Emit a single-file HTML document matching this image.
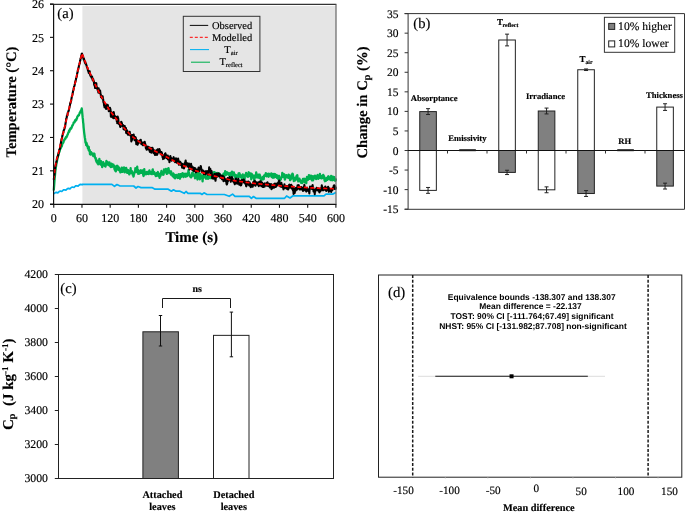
<!DOCTYPE html>
<html><head><meta charset="utf-8"><style>
html,body{margin:0;padding:0;background:#fff;overflow:hidden}
svg{display:block;will-change:transform;text-rendering:geometricPrecision}
text{stroke:#000;stroke-width:0.15px}
svg{font-family:"Liberation Serif",serif}
</style></head><body>
<svg width="685" height="512" viewBox="0 0 685 512">
<rect width="685" height="512" fill="#fff"/>
<rect x="82.4" y="6" width="253.5" height="198" fill="#e5e5e5"/>
<path d="M53.75 193.70L55.35 192.63L56.35 192.43L57.80 192.86L59.40 191.28L60.40 191.08L61.85 191.51L63.45 189.94L64.45 189.74L65.90 190.17L67.50 188.60L68.50 188.40L69.95 188.83L71.55 187.25L72.55 187.05L74.00 187.49L75.60 185.91L76.60 185.71L78.05 186.14L79.65 184.57L80.65 184.37L82.10 184.80L82.10 184.30L111.90 184.30L114.50 186.30L117.00 184.50L120.00 186.00L133.70 186.00L136.00 188.00L138.00 186.50L141.00 187.60L152.00 187.60L155.00 189.20L168.20 189.20L171.40 191.20L173.50 189.80L176.00 191.20L180.00 191.20L184.20 193.30L186.00 191.50L188.00 193.30L200.30 193.30L201.90 194.50L204.00 192.80L207.00 194.50L224.40 194.50L229.20 196.30L232.60 194.10L235.00 196.30L249.30 196.30L251.40 198.30L253.50 196.50L256.00 198.30L284.60 198.30L286.60 196.00L290.00 198.00L293.00 195.80L324.00 195.80L326.00 194.10L333.00 194.10L335.90 192.40" fill="none" stroke="#00b0f0" stroke-width="1.7" stroke-linejoin="round"/>
<path d="M53.75 190.48L53.99 187.42L54.22 184.45L54.46 181.22L54.69 178.35L54.93 175.55L55.16 173.04L55.40 170.59L55.63 169.62L55.87 167.16L56.10 166.04L56.34 164.17L56.57 163.01L56.81 162.01L57.04 160.84L57.28 159.61L57.51 158.63L57.75 157.01L57.98 156.60L58.22 154.63L58.45 154.13L58.69 153.23L58.92 152.77L59.16 151.78L59.39 151.89L59.63 151.22L59.86 149.61L60.10 149.55L60.33 148.51L60.57 148.51L60.80 148.00L61.04 147.66L61.27 146.89L61.51 146.55L61.74 146.39L61.98 145.54L62.21 144.11L62.45 143.90L62.68 143.20L62.92 142.91L63.16 142.76L63.39 142.41L63.63 141.20L63.86 140.86L64.10 140.67L64.33 139.59L64.57 139.35L64.80 139.29L65.04 138.62L65.27 138.38L65.51 138.61L65.74 137.61L65.98 137.07L66.21 136.81L66.45 137.29L66.68 136.58L66.92 136.13L67.15 135.84L67.39 134.96L67.62 134.42L67.86 134.33L68.09 133.44L68.33 132.48L68.56 132.13L68.80 131.70L69.03 130.70L69.27 131.79L69.50 130.60L69.74 129.97L69.97 129.09L70.21 129.52L70.44 128.54L70.68 128.08L70.91 128.28L71.15 128.59L71.38 127.96L71.62 127.58L71.85 126.74L72.09 126.43L72.32 125.31L72.56 125.25L72.80 125.03L73.03 124.49L73.27 123.83L73.50 123.09L73.74 122.32L73.97 122.70L74.21 122.26L74.44 122.51L74.68 121.85L74.91 120.77L75.15 121.28L75.38 120.01L75.62 120.06L75.85 120.55L76.09 120.22L76.32 119.96L76.56 118.73L76.79 118.95L77.03 118.32L77.26 116.90L77.50 116.71L77.73 116.00L77.97 115.93L78.20 115.54L78.44 115.70L78.67 114.96L78.91 115.30L79.14 114.68L79.38 113.89L79.61 112.98L79.85 112.99L80.08 112.17L80.32 112.22L80.55 111.61L80.79 110.66L81.02 110.38L81.26 109.87L81.49 110.12L81.73 108.45L81.97 110.16L82.20 112.49L82.44 115.22L82.67 117.72L82.91 119.19L83.14 122.36L83.38 123.90L83.61 127.33L83.85 129.46L84.08 131.76L84.32 133.83L84.55 135.31L84.79 137.45L85.02 138.31L85.26 140.18L85.49 142.74L85.73 142.58L85.96 142.16L86.20 145.14L86.43 143.11L86.67 143.08L86.90 145.53L87.14 146.11L87.37 145.26L87.61 146.59L87.84 147.98L88.08 146.57L88.31 147.23L88.55 149.94L88.78 147.00L89.02 150.77L89.25 150.88L89.49 150.63L89.72 149.98L89.96 154.25L90.19 152.52L90.43 153.63L90.66 154.59L90.90 154.08L91.13 152.05L91.37 154.25L91.61 152.90L91.84 154.05L92.08 153.74L92.31 153.46L92.55 153.75L92.78 153.62L93.02 154.88L93.25 156.15L93.49 154.55L93.72 154.76L93.96 155.33L94.19 153.53L94.43 153.94L94.66 155.62L94.90 156.97L95.13 157.56L95.37 158.56L95.60 157.78L95.84 158.86L96.07 160.93L96.31 159.57L96.54 161.93L96.78 161.20L97.01 161.84L97.25 160.97L97.48 163.43L97.72 161.66L97.95 163.00L98.19 164.28L98.42 164.12L98.66 163.61L98.89 162.18L99.13 160.47L99.36 158.83L99.60 160.45L99.83 161.69L100.07 162.97L100.30 163.92L100.54 164.59L100.77 164.30L101.01 161.12L101.25 164.97L101.48 162.97L101.72 163.75L101.95 164.92L102.19 167.09L102.42 165.25L102.66 163.20L102.89 162.76L103.13 162.17L103.36 162.53L103.60 163.61L103.83 163.26L104.07 165.42L104.30 164.27L104.54 165.82L104.77 164.71L105.01 165.57L105.24 165.43L105.48 166.63L105.71 165.18L105.95 164.36L106.18 162.86L106.42 160.99L106.65 161.38L106.89 161.81L107.12 162.38L107.36 164.71L107.59 164.12L107.83 163.78L108.06 162.50L108.30 164.02L108.53 164.39L108.77 162.73L109.00 165.26L109.24 165.51L109.47 162.31L109.71 163.95L109.94 165.39L110.18 164.95L110.42 166.52L110.65 164.27L110.89 167.14L111.12 164.90L111.36 163.62L111.59 165.34L111.83 163.80L112.06 166.85L112.30 166.25L112.53 164.78L112.77 164.68L113.00 165.23L113.24 165.95L113.47 164.63L113.71 166.36L113.94 166.57L114.18 165.94L114.41 168.64L114.65 169.48L114.88 169.09L115.12 170.53L115.35 169.64L115.59 168.96L115.82 171.46L116.06 168.27L116.29 169.79L116.53 166.03L116.76 165.80L117.00 165.73L117.23 167.36L117.47 167.64L117.70 166.13L117.94 168.06L118.17 168.66L118.41 169.97L118.64 167.20L118.88 169.31L119.11 167.92L119.35 170.23L119.58 169.96L119.82 169.60L120.06 170.61L120.29 172.46L120.53 171.14L120.76 171.57L121.00 170.71L121.23 171.96L121.47 168.64L121.70 167.66L121.94 170.07L122.17 171.16L122.41 169.57L122.64 171.78L122.88 170.70L123.11 169.88L123.35 170.19L123.58 167.63L123.82 169.23L124.05 167.50L124.29 167.92L124.52 169.73L124.76 172.47L124.99 169.49L125.23 168.97L125.46 169.70L125.70 168.47L125.93 170.74L126.17 167.82L126.40 171.23L126.64 169.21L126.87 171.90L127.11 172.84L127.34 171.06L127.58 171.92L127.81 170.96L128.05 170.12L128.28 172.87L128.52 170.75L128.75 172.02L128.99 172.21L129.23 174.27L129.46 174.29L129.70 173.44L129.93 171.59L130.17 171.60L130.40 172.36L130.64 168.23L130.87 171.91L131.11 171.06L131.34 170.85L131.58 173.00L131.81 171.18L132.05 172.59L132.28 171.37L132.52 172.31L132.75 174.94L132.99 174.02L133.22 174.43L133.46 176.53L133.69 176.05L133.93 172.92L134.16 174.09L134.40 172.94L134.63 172.56L134.87 172.34L135.10 171.75L135.34 168.26L135.57 168.36L135.81 169.79L136.04 171.86L136.28 171.53L136.51 171.45L136.75 169.76L136.98 168.52L137.22 166.74L137.45 170.82L137.69 172.78L137.92 170.92L138.16 173.80L138.39 172.13L138.63 170.46L138.87 171.68L139.10 173.38L139.34 173.62L139.57 171.03L139.81 172.05L140.04 172.35L140.28 171.19L140.51 172.48L140.75 172.70L140.98 170.27L141.22 171.60L141.45 171.52L141.69 172.84L141.92 170.71L142.16 172.02L142.39 170.45L142.63 172.98L142.86 171.91L143.10 174.20L143.33 175.40L143.57 175.97L143.80 175.26L144.04 173.08L144.27 169.14L144.51 172.37L144.74 172.85L144.98 172.67L145.21 172.82L145.45 173.63L145.68 172.61L145.92 174.39L146.15 173.24L146.39 173.05L146.62 172.02L146.86 173.25L147.09 173.92L147.33 173.88L147.56 172.22L147.80 172.33L148.04 173.19L148.27 171.73L148.51 172.64L148.74 174.05L148.98 173.42L149.21 171.94L149.45 170.41L149.68 171.42L149.92 171.99L150.15 172.49L150.39 173.36L150.62 173.06L150.86 173.76L151.09 172.40L151.33 172.04L151.56 171.87L151.80 174.22L152.03 172.89L152.27 172.15L152.50 170.18L152.74 169.46L152.97 170.86L153.21 171.74L153.44 171.82L153.68 173.88L153.91 171.79L154.15 172.98L154.38 173.21L154.62 172.65L154.85 173.84L155.09 174.67L155.32 174.87L155.56 174.97L155.79 176.14L156.03 174.53L156.26 175.28L156.50 175.91L156.73 174.76L156.97 172.97L157.20 173.05L157.44 173.21L157.68 172.51L157.91 172.02L158.15 175.03L158.38 175.78L158.62 175.53L158.85 173.82L159.09 175.35L159.32 176.30L159.56 177.88L159.79 176.61L160.03 173.78L160.26 175.21L160.50 175.94L160.73 172.94L160.97 173.74L161.20 172.33L161.44 170.90L161.67 171.96L161.91 172.73L162.14 172.95L162.38 173.37L162.61 174.48L162.85 174.41L163.08 174.26L163.32 174.81L163.55 174.71L163.79 172.79L164.02 169.31L164.26 169.88L164.49 172.49L164.73 170.07L164.96 171.70L165.20 172.38L165.43 171.22L165.67 171.04L165.90 168.79L166.14 172.20L166.37 170.86L166.61 172.81L166.85 173.95L167.08 172.55L167.32 172.61L167.55 173.45L167.79 171.16L168.02 168.76L168.26 170.08L168.49 168.13L168.73 169.45L168.96 171.46L169.20 171.72L169.43 170.89L169.67 172.83L169.90 172.45L170.14 171.67L170.37 173.13L170.61 173.69L170.84 174.55L171.08 171.34L171.31 174.66L171.55 173.19L171.78 173.29L172.02 174.20L172.25 174.78L172.49 175.83L172.72 176.25L172.96 175.83L173.19 173.46L173.43 176.51L173.66 176.22L173.90 177.26L174.13 174.37L174.37 177.75L174.60 174.90L174.84 175.51L175.07 178.31L175.31 176.40L175.54 177.50L175.78 175.16L176.01 176.31L176.25 174.97L176.49 175.44L176.72 177.43L176.96 175.30L177.19 175.71L177.43 177.31L177.66 176.81L177.90 177.98L178.13 176.52L178.37 174.34L178.60 176.05L178.84 174.14L179.07 177.12L179.31 175.23L179.54 176.37L179.78 177.56L180.01 178.69L180.25 176.86L180.48 174.12L180.72 175.95L180.95 176.02L181.19 176.81L181.42 176.27L181.66 173.77L181.89 173.63L182.13 174.22L182.36 173.65L182.60 173.12L182.83 174.49L183.07 174.42L183.30 174.95L183.54 177.07L183.77 174.18L184.01 174.87L184.24 174.37L184.48 173.98L184.71 174.20L184.95 173.79L185.18 174.92L185.42 174.84L185.66 176.15L185.89 176.75L186.13 173.57L186.36 175.38L186.60 176.17L186.83 175.37L187.07 176.12L187.30 175.15L187.54 173.76L187.77 174.41L188.01 173.13L188.24 172.83L188.48 170.17L188.71 172.54L188.95 172.82L189.18 175.20L189.42 175.18L189.65 176.09L189.89 175.02L190.12 176.23L190.36 176.94L190.59 175.37L190.83 176.83L191.06 177.45L191.30 177.04L191.53 176.67L191.77 175.81L192.00 173.06L192.24 175.86L192.47 173.95L192.71 172.50L192.94 175.65L193.18 173.16L193.41 174.66L193.65 174.61L193.88 175.20L194.12 174.37L194.35 174.31L194.59 174.81L194.82 176.54L195.06 178.32L195.30 177.30L195.53 176.48L195.77 175.72L196.00 174.28L196.24 173.18L196.47 174.03L196.71 172.56L196.94 171.56L197.18 175.52L197.41 179.49L197.65 176.20L197.88 176.18L198.12 177.40L198.35 173.58L198.59 172.79L198.82 174.09L199.06 173.40L199.29 176.30L199.53 177.73L199.76 179.44L200.00 178.75L200.23 176.04L200.47 174.25L200.70 176.42L200.94 175.94L201.17 175.68L201.41 177.59L201.64 177.68L201.88 176.49L202.11 176.08L202.35 178.12L202.58 181.34L202.82 177.35L203.05 178.72L203.29 175.27L203.52 175.81L203.76 175.17L203.99 175.11L204.23 176.98L204.47 176.73L204.70 176.29L204.94 177.23L205.17 175.82L205.41 177.09L205.64 177.26L205.88 177.61L206.11 178.73L206.35 176.97L206.58 176.70L206.82 177.26L207.05 177.52L207.29 176.11L207.52 177.16L207.76 177.23L207.99 178.88L208.23 176.21L208.46 174.57L208.70 175.21L208.93 174.62L209.17 176.83L209.40 177.73L209.64 175.78L209.87 177.15L210.11 178.10L210.34 176.00L210.58 177.25L210.81 173.99L211.05 178.09L211.28 176.27L211.52 178.10L211.75 177.59L211.99 175.41L212.22 174.77L212.46 173.44L212.69 172.59L212.93 173.41L213.16 172.37L213.40 176.17L213.63 174.96L213.87 173.86L214.11 174.90L214.34 172.05L214.58 176.98L214.81 177.90L215.05 178.75L215.28 178.54L215.52 178.15L215.75 172.81L215.99 176.37L216.22 174.26L216.46 174.40L216.69 175.72L216.93 174.66L217.16 174.44L217.40 176.17L217.63 174.54L217.87 173.02L218.10 175.46L218.34 174.69L218.57 173.63L218.81 173.66L219.04 175.50L219.28 173.59L219.51 173.85L219.75 174.84L219.98 174.64L220.22 175.79L220.45 176.34L220.69 176.74L220.92 176.55L221.16 176.15L221.39 177.49L221.63 176.20L221.86 177.27L222.10 177.78L222.33 175.44L222.57 177.46L222.80 177.16L223.04 177.15L223.28 176.33L223.51 173.77L223.75 178.41L223.98 176.22L224.22 175.37L224.45 173.27L224.69 173.91L224.92 175.35L225.16 171.12L225.39 174.29L225.63 173.12L225.86 174.40L226.10 174.80L226.33 173.15L226.57 172.42L226.80 172.63L227.04 173.36L227.27 172.35L227.51 174.19L227.74 173.33L227.98 173.48L228.21 174.07L228.45 174.46L228.68 173.77L228.92 173.32L229.15 173.98L229.39 175.61L229.62 173.36L229.86 175.72L230.09 176.51L230.33 176.53L230.56 176.29L230.80 178.77L231.03 172.77L231.27 174.79L231.50 175.12L231.74 173.54L231.97 171.55L232.21 174.21L232.44 175.65L232.68 175.26L232.92 173.54L233.15 175.36L233.39 174.24L233.62 174.62L233.86 172.31L234.09 174.64L234.33 174.10L234.56 175.33L234.80 176.67L235.03 175.20L235.27 175.91L235.50 178.76L235.74 174.98L235.97 175.41L236.21 175.93L236.44 175.37L236.68 176.13L236.91 176.24L237.15 175.71L237.38 176.68L237.62 176.99L237.85 177.17L238.09 176.85L238.32 176.09L238.56 173.36L238.79 173.67L239.03 175.11L239.26 174.21L239.50 173.26L239.73 174.28L239.97 176.87L240.20 175.06L240.44 175.19L240.67 176.12L240.91 176.58L241.14 175.53L241.38 176.68L241.61 176.55L241.85 179.23L242.09 178.91L242.32 178.40L242.56 178.41L242.79 174.43L243.03 179.50L243.26 178.08L243.50 177.39L243.73 179.11L243.97 177.52L244.20 176.43L244.44 179.28L244.67 178.86L244.91 175.25L245.14 175.96L245.38 174.79L245.61 174.53L245.85 174.10L246.08 172.98L246.32 173.88L246.55 175.39L246.79 175.59L247.02 174.46L247.26 176.60L247.49 174.64L247.73 175.35L247.96 176.92L248.20 175.59L248.43 173.56L248.67 172.26L248.90 172.51L249.14 174.70L249.37 175.71L249.61 173.74L249.84 174.86L250.08 174.32L250.31 174.86L250.55 173.50L250.78 177.06L251.02 176.65L251.25 179.28L251.49 175.94L251.73 173.90L251.96 177.43L252.20 174.95L252.43 175.40L252.67 175.88L252.90 175.42L253.14 176.65L253.37 177.83L253.61 175.70L253.84 177.66L254.08 179.20L254.31 180.99L254.55 176.48L254.78 176.54L255.02 177.87L255.25 177.38L255.49 175.33L255.72 174.59L255.96 175.61L256.19 172.44L256.43 175.14L256.66 175.41L256.90 177.01L257.13 177.46L257.37 175.91L257.60 174.87L257.84 175.57L258.07 175.53L258.31 175.60L258.54 175.94L258.78 174.75L259.01 176.44L259.25 178.00L259.48 176.32L259.72 174.55L259.95 176.88L260.19 176.01L260.42 177.62L260.66 177.68L260.90 178.69L261.13 180.35L261.37 180.02L261.60 179.13L261.84 179.27L262.07 178.56L262.31 177.92L262.54 178.19L262.78 176.97L263.01 177.06L263.25 179.42L263.48 178.04L263.72 179.07L263.95 176.38L264.19 175.48L264.42 176.18L264.66 175.36L264.89 175.87L265.13 175.19L265.36 174.43L265.60 174.52L265.83 173.13L266.07 174.74L266.30 174.63L266.54 176.38L266.77 175.82L267.01 175.29L267.24 175.38L267.48 176.15L267.71 173.78L267.95 174.28L268.18 175.76L268.42 175.73L268.65 176.73L268.89 173.74L269.12 174.15L269.36 174.41L269.59 174.51L269.83 175.69L270.06 174.96L270.30 175.12L270.54 174.74L270.77 174.41L271.01 174.49L271.24 173.36L271.48 173.90L271.71 177.22L271.95 175.27L272.18 173.86L272.42 176.22L272.65 175.02L272.89 177.76L273.12 174.78L273.36 177.15L273.59 177.64L273.83 176.27L274.06 173.87L274.30 176.00L274.53 177.40L274.77 176.18L275.00 174.70L275.24 174.33L275.47 176.65L275.71 176.05L275.94 176.60L276.18 176.85L276.41 176.09L276.65 175.20L276.88 177.82L277.12 176.46L277.35 175.70L277.59 175.86L277.82 178.27L278.06 178.01L278.29 179.10L278.53 177.57L278.76 176.01L279.00 175.77L279.23 178.43L279.47 177.12L279.71 179.95L279.94 179.38L280.18 180.34L280.41 178.53L280.65 179.52L280.88 179.28L281.12 177.65L281.35 178.00L281.59 177.14L281.82 176.46L282.06 175.68L282.29 172.84L282.53 174.10L282.76 173.83L283.00 175.60L283.23 176.87L283.47 175.64L283.70 177.18L283.94 174.93L284.17 174.25L284.41 175.94L284.64 177.98L284.88 179.51L285.11 178.95L285.35 178.12L285.58 176.11L285.82 175.87L286.05 176.94L286.29 175.21L286.52 177.15L286.76 177.07L286.99 175.64L287.23 176.50L287.46 175.68L287.70 176.28L287.93 176.10L288.17 177.77L288.40 177.12L288.64 174.76L288.88 176.48L289.11 175.15L289.35 177.10L289.58 176.32L289.82 177.04L290.05 180.12L290.29 180.17L290.52 179.34L290.76 179.10L290.99 178.85L291.23 178.08L291.46 176.15L291.70 174.72L291.93 178.28L292.17 176.28L292.40 173.64L292.64 175.75L292.87 174.08L293.11 178.77L293.34 176.49L293.58 178.43L293.81 181.08L294.05 178.91L294.28 179.13L294.52 178.86L294.75 178.15L294.99 180.00L295.22 180.42L295.46 179.97L295.69 179.89L295.93 177.78L296.16 177.74L296.40 176.15L296.63 176.23L296.87 177.30L297.10 175.38L297.34 175.27L297.57 178.79L297.81 178.49L298.04 180.16L298.28 181.42L298.52 178.66L298.75 180.39L298.99 178.91L299.22 178.72L299.46 178.67L299.69 180.39L299.93 180.96L300.16 180.62L300.40 180.64L300.63 182.03L300.87 180.67L301.10 182.94L301.34 181.87L301.57 182.37L301.81 182.03L302.04 182.46L302.28 183.05L302.51 180.42L302.75 182.01L302.98 178.88L303.22 180.76L303.45 180.80L303.69 180.79L303.92 179.14L304.16 178.69L304.39 180.15L304.63 178.93L304.86 182.44L305.10 181.63L305.33 179.83L305.57 181.84L305.80 180.00L306.04 181.06L306.27 183.05L306.51 180.05L306.74 178.33L306.98 177.03L307.21 179.03L307.45 177.94L307.69 178.90L307.92 179.93L308.16 179.10L308.39 178.92L308.63 176.70L308.86 175.21L309.10 177.20L309.33 177.28L309.57 177.67L309.80 178.87L310.04 175.93L310.27 176.35L310.51 177.54L310.74 176.78L310.98 175.67L311.21 177.17L311.45 177.79L311.68 177.78L311.92 180.31L312.15 178.53L312.39 177.48L312.62 177.27L312.86 176.12L313.09 180.43L313.33 178.38L313.56 176.75L313.80 176.88L314.03 176.78L314.27 178.36L314.50 177.36L314.74 177.87L314.97 175.67L315.21 178.24L315.44 176.14L315.68 176.16L315.91 177.54L316.15 179.00L316.38 178.52L316.62 177.62L316.85 178.24L317.09 176.68L317.33 175.44L317.56 175.03L317.80 176.37L318.03 176.48L318.27 178.81L318.50 178.22L318.74 178.22L318.97 177.37L319.21 177.10L319.44 175.73L319.68 177.94L319.91 173.90L320.15 176.87L320.38 175.51L320.62 177.42L320.85 177.33L321.09 176.20L321.32 178.46L321.56 177.10L321.79 177.37L322.03 176.01L322.26 178.12L322.50 176.65L322.73 177.00L322.97 175.76L323.20 174.85L323.44 176.86L323.67 175.74L323.91 177.14L324.14 176.27L324.38 179.20L324.61 180.50L324.85 179.70L325.08 181.22L325.32 179.44L325.55 180.34L325.79 180.88L326.02 180.02L326.26 179.90L326.50 177.87L326.73 177.92L326.97 179.58L327.20 177.79L327.44 179.92L327.67 178.56L327.91 178.92L328.14 176.88L328.38 176.24L328.61 177.63L328.85 178.49L329.08 178.92L329.32 178.18L329.55 177.34L329.79 178.90L330.02 179.01L330.26 178.34L330.49 180.05L330.73 179.78L330.96 175.94L331.20 175.83L331.43 177.00L331.67 177.72L331.90 179.27L332.14 180.28L332.37 179.22L332.61 177.50L332.84 176.71L333.08 178.99L333.31 179.97L333.55 178.43L333.78 179.92L334.02 178.03L334.25 177.10L334.49 178.77L334.72 178.76L334.96 179.15L335.19 180.75L335.43 180.60L335.66 180.38L335.90 178.36" fill="none" stroke="#00b050" stroke-width="2.3" stroke-linejoin="round"/>
<path d="M53.75 179.71L53.99 177.99L54.22 175.91L54.46 174.33L54.69 171.96L54.93 169.38L55.16 167.11L55.40 165.81L55.63 165.07L55.87 164.30L56.10 163.33L56.34 161.80L56.57 160.90L56.81 159.68L57.04 157.96L57.28 157.92L57.51 157.26L57.75 156.05L57.98 156.26L58.22 155.37L58.45 153.87L58.69 153.04L58.92 152.18L59.16 150.82L59.39 149.48L59.63 149.30L59.86 148.61L60.10 147.17L60.33 146.19L60.57 145.04L60.80 143.38L61.04 142.11L61.27 140.79L61.51 139.55L61.74 138.45L61.98 138.37L62.21 136.72L62.45 135.27L62.68 135.02L62.92 133.54L63.16 133.27L63.39 132.55L63.63 130.65L63.86 130.15L64.10 129.98L64.33 128.99L64.57 128.24L64.80 127.19L65.04 126.80L65.27 125.28L65.51 123.53L65.74 122.27L65.98 120.93L66.21 118.76L66.45 118.21L66.68 117.84L66.92 115.64L67.15 115.84L67.39 115.61L67.62 113.31L67.86 112.66L68.09 112.60L68.33 111.34L68.56 111.19L68.80 110.41L69.03 109.15L69.27 108.24L69.50 107.32L69.74 106.11L69.97 104.91L70.21 103.10L70.44 103.63L70.68 102.07L70.91 101.84L71.15 100.87L71.38 99.17L71.62 97.83L71.85 96.64L72.09 95.96L72.32 95.17L72.56 94.25L72.80 92.49L73.03 91.35L73.27 90.20L73.50 89.59L73.74 88.54L73.97 87.05L74.21 86.51L74.44 85.82L74.68 84.75L74.91 83.94L75.15 81.98L75.38 81.99L75.62 80.69L75.85 79.75L76.09 78.45L76.32 77.85L76.56 76.87L76.79 76.27L77.03 74.64L77.26 73.01L77.50 72.59L77.73 70.97L77.97 69.81L78.20 69.56L78.44 67.81L78.67 67.63L78.91 65.90L79.14 65.13L79.38 64.32L79.61 63.16L79.85 63.03L80.08 60.54L80.32 60.36L80.55 58.45L80.79 57.92L81.02 58.10L81.26 56.21L81.49 55.31L81.73 53.71L81.97 53.50L82.20 54.45L82.44 55.54L82.67 55.41L82.91 56.34L83.14 56.94L83.38 58.22L83.61 59.27L83.85 58.48L84.08 59.06L84.32 60.84L84.55 60.97L84.79 62.05L85.02 63.03L85.26 61.75L85.49 63.69L85.73 63.45L85.96 63.45L86.20 64.63L86.43 65.19L86.67 66.10L86.90 66.98L87.14 67.59L87.37 67.61L87.61 68.78L87.84 69.88L88.08 70.90L88.31 70.57L88.55 71.89L88.78 73.00L89.02 73.02L89.25 71.99L89.49 72.59L89.72 71.30L89.96 74.81L90.19 74.88L90.43 74.37L90.66 76.17L90.90 76.64L91.13 76.09L91.37 77.17L91.61 77.46L91.84 78.13L92.08 76.63L92.31 77.66L92.55 79.89L92.78 80.19L93.02 79.92L93.25 79.30L93.49 80.89L93.72 81.79L93.96 81.40L94.19 84.90L94.43 84.59L94.66 85.21L94.90 86.68L95.13 88.02L95.37 86.64L95.60 83.89L95.84 83.18L96.07 86.85L96.31 83.31L96.54 87.91L96.78 87.52L97.01 87.29L97.25 87.96L97.48 89.45L97.72 90.29L97.95 89.22L98.19 91.42L98.42 92.48L98.66 88.39L98.89 90.99L99.13 90.69L99.36 92.90L99.60 91.89L99.83 91.68L100.07 90.46L100.30 92.24L100.54 94.20L100.77 94.41L101.01 97.04L101.25 97.23L101.48 96.25L101.72 97.96L101.95 97.42L102.19 98.38L102.42 96.17L102.66 96.38L102.89 98.83L103.13 99.13L103.36 101.77L103.60 102.60L103.83 102.57L104.07 105.36L104.30 105.97L104.54 107.18L104.77 106.05L105.01 104.75L105.24 106.60L105.48 106.86L105.71 108.19L105.95 108.53L106.18 108.89L106.42 105.15L106.65 104.59L106.89 107.68L107.12 108.34L107.36 108.27L107.59 107.12L107.83 105.07L108.06 106.87L108.30 107.12L108.53 108.73L108.77 111.24L109.00 109.18L109.24 111.03L109.47 109.02L109.71 108.89L109.94 107.74L110.18 109.71L110.42 108.98L110.65 111.50L110.89 116.60L111.12 116.33L111.36 116.55L111.59 114.39L111.83 112.47L112.06 114.65L112.30 117.13L112.53 114.91L112.77 117.54L113.00 114.33L113.24 116.03L113.47 118.15L113.71 112.12L113.94 113.24L114.18 117.04L114.41 115.64L114.65 115.62L114.88 116.53L115.12 118.14L115.35 117.41L115.59 116.93L115.82 117.20L116.06 116.92L116.29 117.70L116.53 117.02L116.76 121.08L117.00 119.31L117.23 123.09L117.47 121.60L117.70 116.58L117.94 119.41L118.17 118.04L118.41 120.41L118.64 123.17L118.88 123.40L119.11 124.31L119.35 124.35L119.58 123.44L119.82 124.29L120.06 126.03L120.29 127.00L120.53 126.48L120.76 125.83L121.00 124.38L121.23 121.68L121.47 122.12L121.70 123.18L121.94 123.05L122.17 125.74L122.41 125.91L122.64 125.05L122.88 124.91L123.11 125.33L123.35 125.47L123.58 129.11L123.82 128.80L124.05 129.54L124.29 126.85L124.52 127.88L124.76 126.02L124.99 128.95L125.23 128.26L125.46 130.08L125.70 130.39L125.93 128.09L126.17 133.07L126.40 130.48L126.64 130.13L126.87 130.78L127.11 130.36L127.34 131.22L127.58 134.13L127.81 134.39L128.05 134.62L128.28 134.66L128.52 134.64L128.75 133.24L128.99 134.04L129.23 133.74L129.46 134.77L129.70 131.69L129.93 133.51L130.17 133.95L130.40 135.13L130.64 135.84L130.87 134.91L131.11 137.03L131.34 141.54L131.58 137.82L131.81 135.36L132.05 139.82L132.28 135.87L132.52 135.05L132.75 136.27L132.99 135.19L133.22 137.38L133.46 136.62L133.69 134.58L133.93 135.88L134.16 137.83L134.40 138.81L134.63 140.22L134.87 137.79L135.10 139.57L135.34 136.97L135.57 138.96L135.81 137.76L136.04 139.96L136.28 144.09L136.51 142.01L136.75 143.90L136.98 142.96L137.22 140.33L137.45 144.23L137.69 144.68L137.92 141.13L138.16 142.73L138.39 141.69L138.63 141.74L138.87 142.83L139.10 142.40L139.34 141.15L139.57 140.69L139.81 142.48L140.04 141.29L140.28 140.47L140.51 141.89L140.75 139.72L140.98 141.50L141.22 143.36L141.45 144.08L141.69 142.32L141.92 142.87L142.16 144.30L142.39 144.51L142.63 142.82L142.86 144.99L143.10 145.29L143.33 142.47L143.57 144.74L143.80 143.99L144.04 143.17L144.27 143.62L144.51 144.79L144.74 141.91L144.98 143.38L145.21 145.10L145.45 144.27L145.68 146.84L145.92 148.20L146.15 147.05L146.39 147.73L146.62 149.62L146.86 146.62L147.09 147.13L147.33 146.79L147.56 148.42L147.80 147.35L148.04 146.64L148.27 148.37L148.51 149.55L148.74 146.94L148.98 148.85L149.21 147.78L149.45 147.35L149.68 151.16L149.92 151.90L150.15 149.82L150.39 149.48L150.62 148.90L150.86 148.33L151.09 147.85L151.33 152.60L151.56 150.75L151.80 150.78L152.03 149.25L152.27 147.83L152.50 148.91L152.74 148.13L152.97 151.22L153.21 151.33L153.44 151.94L153.68 153.27L153.91 152.25L154.15 150.36L154.38 152.51L154.62 153.49L154.85 153.83L155.09 155.02L155.32 153.01L155.56 151.53L155.79 153.63L156.03 151.90L156.26 150.30L156.50 152.21L156.73 152.81L156.97 154.89L157.20 154.54L157.44 153.73L157.68 149.26L157.91 150.47L158.15 151.26L158.38 152.42L158.62 152.31L158.85 151.30L159.09 151.56L159.32 149.03L159.56 151.04L159.79 150.10L160.03 152.11L160.26 151.86L160.50 153.38L160.73 152.87L160.97 152.91L161.20 152.18L161.44 154.77L161.67 152.23L161.91 153.20L162.14 154.83L162.38 155.77L162.61 157.46L162.85 157.22L163.08 159.08L163.32 157.98L163.55 155.50L163.79 157.64L164.02 157.93L164.26 158.37L164.49 157.35L164.73 155.76L164.96 153.76L165.20 155.63L165.43 153.33L165.67 154.87L165.90 156.04L166.14 155.01L166.37 157.23L166.61 158.25L166.85 157.79L167.08 156.54L167.32 156.20L167.55 156.95L167.79 155.59L168.02 159.48L168.26 156.80L168.49 158.34L168.73 159.38L168.96 159.24L169.20 159.06L169.43 162.23L169.67 158.87L169.90 159.09L170.14 158.70L170.37 156.05L170.61 158.49L170.84 157.50L171.08 158.17L171.31 158.16L171.55 160.62L171.78 158.44L172.02 159.99L172.25 159.28L172.49 159.69L172.72 158.96L172.96 159.15L173.19 159.59L173.43 158.49L173.66 157.18L173.90 158.53L174.13 159.70L174.37 159.43L174.60 161.34L174.84 160.23L175.07 162.17L175.31 160.59L175.54 159.36L175.78 160.83L176.01 158.20L176.25 158.62L176.49 159.00L176.72 162.62L176.96 162.04L177.19 161.18L177.43 161.65L177.66 159.90L177.90 160.89L178.13 158.59L178.37 160.94L178.60 160.40L178.84 164.75L179.07 161.98L179.31 162.63L179.54 162.27L179.78 164.37L180.01 164.09L180.25 161.78L180.48 164.59L180.72 163.62L180.95 164.40L181.19 165.26L181.42 163.23L181.66 164.35L181.89 166.18L182.13 167.64L182.36 164.38L182.60 164.01L182.83 164.89L183.07 164.40L183.30 166.17L183.54 166.01L183.77 167.44L184.01 168.45L184.24 165.83L184.48 166.05L184.71 163.06L184.95 163.62L185.18 164.08L185.42 161.60L185.66 160.57L185.89 163.41L186.13 164.65L186.36 162.64L186.60 162.97L186.83 164.88L187.07 165.14L187.30 163.30L187.54 164.08L187.77 166.53L188.01 166.59L188.24 166.79L188.48 165.32L188.71 165.30L188.95 163.63L189.18 165.83L189.42 169.46L189.65 167.72L189.89 169.01L190.12 168.63L190.36 166.73L190.59 167.38L190.83 166.17L191.06 163.78L191.30 166.98L191.53 168.40L191.77 166.01L192.00 168.86L192.24 168.74L192.47 170.06L192.71 169.89L192.94 169.97L193.18 169.55L193.41 167.42L193.65 170.87L193.88 167.94L194.12 169.80L194.35 170.59L194.59 168.17L194.82 169.11L195.06 170.92L195.30 168.42L195.53 171.93L195.77 171.17L196.00 172.28L196.24 170.88L196.47 171.58L196.71 169.89L196.94 170.90L197.18 169.50L197.41 171.21L197.65 170.82L197.88 169.37L198.12 170.00L198.35 170.88L198.59 167.60L198.82 169.01L199.06 171.10L199.29 169.00L199.53 169.37L199.76 168.84L200.00 168.28L200.23 167.60L200.47 168.21L200.70 165.95L200.94 166.57L201.17 168.97L201.41 168.85L201.64 171.92L201.88 170.52L202.11 171.01L202.35 170.99L202.58 170.17L202.82 171.79L203.05 170.61L203.29 172.06L203.52 173.02L203.76 173.45L203.99 174.09L204.23 173.37L204.47 173.09L204.70 172.38L204.94 172.17L205.17 171.20L205.41 172.67L205.64 174.24L205.88 173.74L206.11 171.68L206.35 172.01L206.58 172.26L206.82 172.78L207.05 171.00L207.29 172.53L207.52 172.40L207.76 172.53L207.99 174.66L208.23 173.39L208.46 171.93L208.70 171.56L208.93 171.27L209.17 167.42L209.40 170.40L209.64 169.73L209.87 171.69L210.11 170.99L210.34 168.95L210.58 172.09L210.81 173.91L211.05 172.78L211.28 172.28L211.52 171.07L211.75 174.23L211.99 174.66L212.22 178.21L212.46 176.68L212.69 177.14L212.93 176.43L213.16 178.64L213.40 176.58L213.63 176.68L213.87 176.80L214.11 175.62L214.34 174.11L214.58 175.60L214.81 174.01L215.05 174.73L215.28 179.60L215.52 180.77L215.75 177.80L215.99 177.56L216.22 175.70L216.46 173.47L216.69 175.44L216.93 175.03L217.16 176.41L217.40 176.55L217.63 176.35L217.87 176.39L218.10 173.53L218.34 174.56L218.57 173.62L218.81 173.47L219.04 173.72L219.28 174.02L219.51 174.01L219.75 174.11L219.98 176.17L220.22 177.07L220.45 177.84L220.69 175.19L220.92 175.48L221.16 176.39L221.39 177.71L221.63 175.98L221.86 178.96L222.10 179.28L222.33 177.98L222.57 177.20L222.80 175.81L223.04 177.73L223.28 177.83L223.51 181.09L223.75 179.33L223.98 180.45L224.22 177.38L224.45 180.31L224.69 180.77L224.92 179.62L225.16 179.19L225.39 179.75L225.63 179.30L225.86 181.24L226.10 179.81L226.33 182.56L226.57 183.92L226.80 184.53L227.04 183.97L227.27 183.29L227.51 180.70L227.74 178.06L227.98 181.06L228.21 178.87L228.45 178.42L228.68 178.49L228.92 180.18L229.15 178.83L229.39 179.62L229.62 177.13L229.86 178.70L230.09 179.60L230.33 179.14L230.56 180.32L230.80 181.73L231.03 178.10L231.27 177.66L231.50 178.42L231.74 177.31L231.97 177.18L232.21 180.19L232.44 180.26L232.68 178.52L232.92 180.12L233.15 181.58L233.39 181.63L233.62 180.92L233.86 180.57L234.09 182.52L234.33 181.60L234.56 183.11L234.80 184.29L235.03 180.80L235.27 182.51L235.50 180.40L235.74 179.06L235.97 178.56L236.21 180.07L236.44 181.67L236.68 183.32L236.91 181.60L237.15 182.94L237.38 183.64L237.62 181.20L237.85 179.53L238.09 179.84L238.32 178.70L238.56 180.68L238.79 182.85L239.03 182.71L239.26 184.67L239.50 182.99L239.73 182.45L239.97 180.76L240.20 182.36L240.44 184.88L240.67 185.34L240.91 183.87L241.14 185.32L241.38 184.45L241.61 181.93L241.85 180.09L242.09 180.68L242.32 180.59L242.56 180.01L242.79 182.32L243.03 181.26L243.26 182.37L243.50 181.27L243.73 179.50L243.97 182.25L244.20 180.42L244.44 180.53L244.67 181.88L244.91 181.66L245.14 183.50L245.38 181.53L245.61 181.96L245.85 183.34L246.08 186.03L246.32 186.28L246.55 183.96L246.79 181.86L247.02 183.83L247.26 182.60L247.49 184.47L247.73 183.55L247.96 182.51L248.20 181.60L248.43 184.20L248.67 182.23L248.90 182.42L249.14 185.47L249.37 185.15L249.61 182.39L249.84 183.04L250.08 186.03L250.31 184.45L250.55 186.29L250.78 187.19L251.02 184.31L251.25 186.15L251.49 186.05L251.73 185.20L251.96 185.03L252.20 184.83L252.43 185.26L252.67 186.77L252.90 185.71L253.14 182.35L253.37 182.60L253.61 181.81L253.84 182.80L254.08 182.33L254.31 181.26L254.55 183.34L254.78 180.91L255.02 185.19L255.25 184.51L255.49 185.81L255.72 184.70L255.96 183.41L256.19 182.17L256.43 184.33L256.66 182.74L256.90 183.48L257.13 183.82L257.37 183.97L257.60 182.63L257.84 184.69L258.07 183.52L258.31 184.62L258.54 185.47L258.78 186.16L259.01 184.78L259.25 181.81L259.48 184.94L259.72 181.87L259.95 182.48L260.19 182.64L260.42 183.00L260.66 181.24L260.90 182.22L261.13 185.75L261.37 186.13L261.60 185.76L261.84 185.67L262.07 182.52L262.31 184.74L262.54 184.37L262.78 186.94L263.01 184.55L263.25 186.32L263.48 186.96L263.72 184.43L263.95 183.78L264.19 183.64L264.42 186.63L264.66 186.50L264.89 185.54L265.13 183.43L265.36 184.83L265.60 184.49L265.83 183.87L266.07 184.70L266.30 183.59L266.54 183.37L266.77 185.72L267.01 182.89L267.24 184.87L267.48 182.25L267.71 183.01L267.95 183.92L268.18 185.52L268.42 186.19L268.65 184.36L268.89 185.33L269.12 184.49L269.36 183.94L269.59 185.19L269.83 185.37L270.06 187.56L270.30 184.82L270.54 185.40L270.77 185.89L271.01 184.05L271.24 184.99L271.48 189.12L271.71 185.86L271.95 188.30L272.18 186.21L272.42 184.69L272.65 187.91L272.89 187.13L273.12 186.93L273.36 186.70L273.59 185.10L273.83 185.07L274.06 187.69L274.30 183.89L274.53 187.13L274.77 185.39L275.00 183.50L275.24 185.35L275.47 186.58L275.71 185.04L275.94 186.84L276.18 185.86L276.41 184.27L276.65 185.75L276.88 183.60L277.12 183.31L277.35 183.36L277.59 185.29L277.82 183.56L278.06 183.57L278.29 183.82L278.53 184.11L278.76 181.07L279.00 184.00L279.23 180.65L279.47 182.22L279.71 183.18L279.94 184.83L280.18 186.24L280.41 185.81L280.65 185.61L280.88 185.25L281.12 186.76L281.35 182.68L281.59 184.82L281.82 184.45L282.06 185.81L282.29 187.01L282.53 186.95L282.76 187.30L283.00 186.50L283.23 187.22L283.47 189.32L283.70 187.36L283.94 188.58L284.17 186.43L284.41 184.36L284.64 185.29L284.88 185.69L285.11 186.92L285.35 187.36L285.58 187.87L285.82 186.11L286.05 188.32L286.29 186.62L286.52 186.79L286.76 186.93L286.99 186.03L287.23 189.05L287.46 188.48L287.70 189.26L287.93 187.31L288.17 189.54L288.40 188.66L288.64 188.35L288.88 187.63L289.11 184.86L289.35 184.54L289.58 187.53L289.82 185.35L290.05 185.82L290.29 185.89L290.52 185.16L290.76 186.40L290.99 186.99L291.23 184.89L291.46 188.14L291.70 185.46L291.93 186.03L292.17 188.31L292.40 189.09L292.64 188.03L292.87 190.42L293.11 190.51L293.34 189.55L293.58 193.85L293.81 188.13L294.05 188.43L294.28 189.04L294.52 188.91L294.75 193.00L294.99 190.31L295.22 190.80L295.46 190.39L295.69 188.10L295.93 190.40L296.16 188.68L296.40 189.92L296.63 187.61L296.87 188.36L297.10 188.01L297.34 189.42L297.57 185.37L297.81 187.21L298.04 187.99L298.28 188.48L298.52 186.26L298.75 185.19L298.99 187.66L299.22 188.26L299.46 187.60L299.69 187.75L299.93 189.56L300.16 187.20L300.40 187.67L300.63 189.01L300.87 187.41L301.10 187.34L301.34 187.08L301.57 189.23L301.81 187.68L302.04 189.56L302.28 189.54L302.51 189.19L302.75 189.78L302.98 190.88L303.22 190.79L303.45 189.83L303.69 187.03L303.92 186.68L304.16 186.57L304.39 184.93L304.63 187.43L304.86 188.24L305.10 188.64L305.33 190.44L305.57 189.74L305.80 189.47L306.04 190.63L306.27 191.57L306.51 189.70L306.74 189.22L306.98 187.83L307.21 188.38L307.45 189.16L307.69 189.58L307.92 189.14L308.16 190.74L308.39 190.61L308.63 190.60L308.86 191.28L309.10 191.59L309.33 193.37L309.57 190.17L309.80 189.20L310.04 186.59L310.27 187.36L310.51 187.75L310.74 187.15L310.98 187.43L311.21 188.01L311.45 186.54L311.68 186.73L311.92 188.86L312.15 188.31L312.39 188.70L312.62 185.11L312.86 187.09L313.09 187.87L313.33 189.11L313.56 191.27L313.80 191.31L314.03 191.77L314.27 189.91L314.50 190.57L314.74 194.10L314.97 189.45L315.21 191.98L315.44 189.66L315.68 189.01L315.91 189.25L316.15 189.09L316.38 189.16L316.62 187.84L316.85 187.91L317.09 189.86L317.33 190.31L317.56 188.36L317.80 190.31L318.03 188.35L318.27 188.94L318.50 189.12L318.74 190.31L318.97 190.96L319.21 191.83L319.44 192.36L319.68 191.58L319.91 191.39L320.15 188.60L320.38 191.25L320.62 190.88L320.85 189.03L321.09 189.04L321.32 188.02L321.56 188.48L321.79 185.30L322.03 186.84L322.26 187.83L322.50 188.80L322.73 190.28L322.97 190.36L323.20 188.09L323.44 188.13L323.67 188.14L323.91 188.69L324.14 188.86L324.38 187.48L324.61 189.62L324.85 187.91L325.08 188.14L325.32 186.65L325.55 188.64L325.79 190.26L326.02 190.10L326.26 190.90L326.50 188.17L326.73 188.55L326.97 187.95L327.20 189.82L327.44 189.59L327.67 189.63L327.91 187.95L328.14 186.83L328.38 190.59L328.61 190.14L328.85 191.75L329.08 189.35L329.32 188.33L329.55 188.60L329.79 190.70L330.02 190.00L330.26 190.32L330.49 190.58L330.73 190.68L330.96 191.11L331.20 191.95L331.43 188.97L331.67 189.63L331.90 189.03L332.14 189.38L332.37 190.18L332.61 188.40L332.84 188.66L333.08 187.68L333.31 188.22L333.55 187.28L333.78 185.55L334.02 187.79L334.25 185.40L334.49 187.07L334.72 188.86L334.96 186.97L335.19 186.20L335.43 188.13L335.66 188.93L335.90 187.17" fill="none" stroke="#000" stroke-width="2.1" stroke-linejoin="round"/>
<path d="M53.75 179.51L54.69 171.05L55.63 164.49L56.57 159.82L57.51 156.31L58.45 152.81L59.39 148.94L60.33 145.07L61.27 141.20L62.21 137.33L63.16 133.46L64.10 129.45L65.04 125.45L65.98 121.44L66.92 117.44L67.86 113.43L68.80 109.62L69.74 105.81L70.68 101.99L71.62 98.08L72.56 94.08L73.50 90.07L74.44 86.07L75.38 81.92L76.32 77.63L77.26 73.34L78.20 69.05L79.14 65.13L80.08 61.21L81.02 57.29L81.97 53.37L82.91 55.84L83.85 58.31L84.79 60.78L85.73 63.25L86.67 65.71L87.61 67.80L88.55 69.88L89.49 71.96L90.43 74.04L91.37 76.12L92.31 78.20L93.25 80.28L94.19 82.36L95.13 84.35L96.07 86.25L97.01 88.15L97.95 90.05L98.89 91.95L99.83 93.85L100.77 95.75L101.72 97.30L102.66 98.86L103.60 100.42L104.54 101.98L105.48 103.53L106.42 105.09L107.36 106.65L108.30 108.21L109.24 109.76L110.18 110.98L111.12 112.20L112.06 113.41L113.00 114.63L113.94 115.85L114.88 117.07L115.82 118.28L116.76 119.50L117.70 120.66L118.64 121.75L119.58 122.85L120.53 123.95L121.47 125.04L122.41 126.14L123.35 127.23L124.29 128.28L125.23 129.28L126.17 130.29L127.11 131.29L128.05 132.29L128.99 133.29L129.93 134.29L130.87 135.29L131.81 136.15L132.75 136.86L133.69 137.56L134.63 138.27L135.57 138.98L136.51 139.69L137.45 140.40L138.39 141.11L139.34 141.76L140.28 142.34L141.22 142.92L142.16 143.51L143.10 144.09L144.04 144.68L144.98 145.26L145.92 145.84L146.86 146.40L147.80 146.94L148.74 147.47L149.68 148.00L150.62 148.54L151.56 149.07L152.50 149.61L153.44 150.14L154.38 150.64L155.32 151.14L156.26 151.64L157.20 152.14L158.15 152.64L159.09 153.14L160.03 153.64L160.97 154.14L161.91 154.64L162.85 155.13L163.79 155.62L164.73 156.11L165.67 156.60L166.61 157.10L167.55 157.59L168.49 158.08L169.43 158.57L170.37 159.07L171.31 159.58L172.25 160.09L173.19 160.60L174.13 161.11L175.07 161.61L176.01 162.12L176.96 162.63L177.90 163.14L178.84 163.65L179.78 164.16L180.72 164.55L181.66 164.95L182.60 165.34L183.54 165.74L184.48 166.14L185.42 166.53L186.36 166.93L187.30 167.33L188.24 167.72L189.18 168.12L190.12 168.51L191.06 168.91L192.00 169.31L192.94 169.70L193.88 170.10L194.82 170.50L195.77 170.76L196.71 171.03L197.65 171.30L198.59 171.56L199.53 171.83L200.47 172.10L201.41 172.37L202.35 172.63L203.29 172.90L204.23 173.17L205.17 173.43L206.11 173.70L207.05 173.98L207.99 174.28L208.93 174.57L209.87 174.87L210.81 175.17L211.75 175.40L212.69 175.62L213.63 175.85L214.58 176.08L215.52 176.31L216.46 176.54L217.40 176.76L218.34 176.99L219.28 177.22L220.22 177.45L221.16 177.67L222.10 177.90L223.04 178.13L223.98 178.36L224.92 178.59L225.86 178.81L226.80 179.04L227.74 179.27L228.68 179.50L229.62 179.73L230.56 179.93L231.50 180.11L232.44 180.29L233.39 180.47L234.33 180.65L235.27 180.83L236.21 181.01L237.15 181.14L238.09 181.26L239.03 181.39L239.97 181.52L240.91 181.65L241.85 181.78L242.79 181.90L243.73 182.02L244.67 182.15L245.61 182.27L246.55 182.39L247.49 182.51L248.43 182.63L249.37 182.75L250.31 182.87L251.25 182.99L252.20 183.12L253.14 183.24L254.08 183.38L255.02 183.51L255.96 183.60L256.90 183.68L257.84 183.77L258.78 183.85L259.72 183.94L260.66 184.02L261.60 184.11L262.54 184.19L263.48 184.28L264.42 184.36L265.36 184.45L266.30 184.53L267.24 184.62L268.18 184.70L269.12 184.79L270.06 184.87L271.01 184.96L271.95 185.04L272.89 185.13L273.83 185.21L274.77 185.30L275.71 185.39L276.65 185.47L277.59 185.55L278.53 185.61L279.47 185.68L280.41 185.75L281.35 185.82L282.29 185.89L283.23 185.96L284.17 186.02L285.11 186.09L286.05 186.16L286.99 186.23L287.93 186.30L288.88 186.36L289.82 186.43L290.76 186.50L291.70 186.57L292.64 186.64L293.58 186.70L294.52 186.77L295.46 186.84L296.40 186.91L297.34 186.98L298.28 187.05L299.22 187.11L300.16 187.18L301.10 187.24L302.04 187.29L302.98 187.35L303.92 187.40L304.86 187.46L305.80 187.51L306.74 187.57L307.69 187.63L308.63 187.68L309.57 187.74L310.51 187.79L311.45 187.85L312.39 187.90L313.33 187.96L314.27 188.02L315.21 188.07L316.15 188.13L317.09 188.18L318.03 188.22L318.97 188.25L319.91 188.28L320.85 188.32L321.79 188.35L322.73 188.38L323.67 188.42L324.61 188.45L325.55 188.48L326.50 188.52L327.44 188.55L328.38 188.58L329.32 188.62L330.26 188.65L331.20 188.68L332.14 188.72L333.08 188.75L334.02 188.78L334.96 188.82L335.90 188.85" fill="none" stroke="#ff0000" stroke-width="1.7" stroke-dasharray="4 2.5"/>
<path d="M50 4.4H336.4" stroke="#333" stroke-width="1.2" fill="none"/><path d="M53.6 4.4V204.45M50 204.45H336.4" stroke="#111" stroke-width="1.2" fill="none"/>
<path d="M336 4.4V204.2" stroke="#666" stroke-width="1.2" fill="none"/>
<path d="M50 204.20H53.6" stroke="#111" stroke-width="1.1"/>
<text x="44" y="208.40" text-anchor="end" font-family="'Liberation Serif', serif" font-size="12" fill="#000">20</text>
<path d="M50 170.83H53.6" stroke="#111" stroke-width="1.1"/>
<text x="44" y="175.03" text-anchor="end" font-family="'Liberation Serif', serif" font-size="12" fill="#000">21</text>
<path d="M50 137.46H53.6" stroke="#111" stroke-width="1.1"/>
<text x="44" y="141.66" text-anchor="end" font-family="'Liberation Serif', serif" font-size="12" fill="#000">22</text>
<path d="M50 104.09H53.6" stroke="#111" stroke-width="1.1"/>
<text x="44" y="108.29" text-anchor="end" font-family="'Liberation Serif', serif" font-size="12" fill="#000">23</text>
<path d="M50 70.72H53.6" stroke="#111" stroke-width="1.1"/>
<text x="44" y="74.92" text-anchor="end" font-family="'Liberation Serif', serif" font-size="12" fill="#000">24</text>
<path d="M50 37.35H53.6" stroke="#111" stroke-width="1.1"/>
<text x="44" y="41.55" text-anchor="end" font-family="'Liberation Serif', serif" font-size="12" fill="#000">25</text>
<path d="M50 3.98H53.6" stroke="#111" stroke-width="1.1"/>
<text x="44" y="8.18" text-anchor="end" font-family="'Liberation Serif', serif" font-size="12" fill="#000">26</text>
<path d="M53.75 204.2V207.8" stroke="#111" stroke-width="1.1"/>
<text x="53.75" y="222.3" text-anchor="middle" font-family="'Liberation Serif', serif" font-size="12" fill="#000">0</text>
<path d="M81.97 204.2V207.8" stroke="#111" stroke-width="1.1"/>
<text x="81.97" y="222.3" text-anchor="middle" font-family="'Liberation Serif', serif" font-size="12" fill="#000">60</text>
<path d="M110.18 204.2V207.8" stroke="#111" stroke-width="1.1"/>
<text x="110.18" y="222.3" text-anchor="middle" font-family="'Liberation Serif', serif" font-size="12" fill="#000">120</text>
<path d="M138.39 204.2V207.8" stroke="#111" stroke-width="1.1"/>
<text x="138.39" y="222.3" text-anchor="middle" font-family="'Liberation Serif', serif" font-size="12" fill="#000">180</text>
<path d="M166.61 204.2V207.8" stroke="#111" stroke-width="1.1"/>
<text x="166.61" y="222.3" text-anchor="middle" font-family="'Liberation Serif', serif" font-size="12" fill="#000">240</text>
<path d="M194.82 204.2V207.8" stroke="#111" stroke-width="1.1"/>
<text x="194.82" y="222.3" text-anchor="middle" font-family="'Liberation Serif', serif" font-size="12" fill="#000">300</text>
<path d="M223.04 204.2V207.8" stroke="#111" stroke-width="1.1"/>
<text x="223.04" y="222.3" text-anchor="middle" font-family="'Liberation Serif', serif" font-size="12" fill="#000">360</text>
<path d="M251.25 204.2V207.8" stroke="#111" stroke-width="1.1"/>
<text x="251.25" y="222.3" text-anchor="middle" font-family="'Liberation Serif', serif" font-size="12" fill="#000">420</text>
<path d="M279.47 204.2V207.8" stroke="#111" stroke-width="1.1"/>
<text x="279.47" y="222.3" text-anchor="middle" font-family="'Liberation Serif', serif" font-size="12" fill="#000">480</text>
<path d="M307.69 204.2V207.8" stroke="#111" stroke-width="1.1"/>
<text x="307.69" y="222.3" text-anchor="middle" font-family="'Liberation Serif', serif" font-size="12" fill="#000">540</text>
<path d="M335.90 204.2V207.8" stroke="#111" stroke-width="1.1"/>
<text x="335.90" y="222.3" text-anchor="middle" font-family="'Liberation Serif', serif" font-size="12" fill="#000">600</text>
<text x="57.3" y="18.2" font-family="'Liberation Serif', serif" font-size="14.6" fill="#000">(a)</text>
<text x="191.7" y="241.7" text-anchor="middle" font-family="'Liberation Serif', serif" font-size="15" font-weight="bold" fill="#000">Time (s)</text>
<text transform="translate(15.7 102) rotate(-90)" text-anchor="middle" font-family="'Liberation Serif', serif" font-size="14.6" font-weight="bold" fill="#000">Temperature (°C)</text>
<rect x="183.3" y="16.3" width="76.6" height="55.2" fill="#e5e5e5" stroke="#333" stroke-width="1"/>
<path d="M189.8 25.4H208.2" stroke="#111" stroke-width="1.05"/>
<path d="M189.8 37.3H208.2" stroke="#ff0000" stroke-width="1" stroke-dasharray="3 2"/>
<path d="M190 49.6H209" stroke="#00b0f0" stroke-width="1.05"/>
<path d="M191 62.2H210" stroke="#00b050" stroke-width="1.05"/>
<text x="212" y="28.9" font-family="'Liberation Serif', serif" font-size="10.5" fill="#000">Observed</text>
<text x="212" y="40.8" font-family="'Liberation Serif', serif" font-size="10.5" fill="#000">Modelled</text>
<text x="224.3" y="52.5" font-family="'Liberation Serif', serif" font-size="10.5" fill="#000">T<tspan font-size="6.6" dy="2">air</tspan></text>
<text x="219.4" y="64.8" font-family="'Liberation Serif', serif" font-size="10.5" fill="#000">T<tspan font-size="6.6" dy="2">reflect</tspan></text>
<path d="M404.6 13.6H684.5V209.3H404.6M408.1 13.6V209.3" stroke="#333" stroke-width="1" fill="none"/>
<path d="M404.6 209.16H408" stroke="#333" stroke-width="1"/>
<text x="398.6" y="213.16" text-anchor="end" font-family="'Liberation Serif', serif" font-size="11.5">-15</text>
<path d="M404.6 189.61H408" stroke="#333" stroke-width="1"/>
<text x="398.6" y="193.61" text-anchor="end" font-family="'Liberation Serif', serif" font-size="11.5">-10</text>
<path d="M404.6 170.06H408" stroke="#333" stroke-width="1"/>
<text x="398.6" y="174.06" text-anchor="end" font-family="'Liberation Serif', serif" font-size="11.5">-5</text>
<path d="M404.6 150.50H408" stroke="#333" stroke-width="1"/>
<text x="398.6" y="154.50" text-anchor="end" font-family="'Liberation Serif', serif" font-size="11.5">0</text>
<path d="M404.6 130.94H408" stroke="#333" stroke-width="1"/>
<text x="398.6" y="134.94" text-anchor="end" font-family="'Liberation Serif', serif" font-size="11.5">5</text>
<path d="M404.6 111.39H408" stroke="#333" stroke-width="1"/>
<text x="398.6" y="115.39" text-anchor="end" font-family="'Liberation Serif', serif" font-size="11.5">10</text>
<path d="M404.6 91.84H408" stroke="#333" stroke-width="1"/>
<text x="398.6" y="95.84" text-anchor="end" font-family="'Liberation Serif', serif" font-size="11.5">15</text>
<path d="M404.6 72.28H408" stroke="#333" stroke-width="1"/>
<text x="398.6" y="76.28" text-anchor="end" font-family="'Liberation Serif', serif" font-size="11.5">20</text>
<path d="M404.6 52.72H408" stroke="#333" stroke-width="1"/>
<text x="398.6" y="56.72" text-anchor="end" font-family="'Liberation Serif', serif" font-size="11.5">25</text>
<path d="M404.6 33.17H408" stroke="#333" stroke-width="1"/>
<text x="398.6" y="37.17" text-anchor="end" font-family="'Liberation Serif', serif" font-size="11.5">30</text>
<path d="M404.6 13.62H408" stroke="#333" stroke-width="1"/>
<text x="398.6" y="17.62" text-anchor="end" font-family="'Liberation Serif', serif" font-size="11.5">35</text>
<rect x="419.75" y="150.50" width="16.60" height="39.89" fill="#fff" stroke="#222" stroke-width="1"/>
<rect x="419.75" y="111.59" width="16.60" height="38.91" fill="#808080" stroke="#222" stroke-width="1"/>
<path d="M428.05 108.65V114.52M426.05 108.65H430.05M426.05 114.52H430.05" stroke="#222" stroke-width="1" fill="none"/>
<path d="M428.05 187.46V193.33M426.05 187.46H430.05M426.05 193.33H430.05" stroke="#222" stroke-width="1" fill="none"/>
<rect x="498.75" y="40.01" width="16.60" height="110.49" fill="#fff" stroke="#222" stroke-width="1"/>
<rect x="498.75" y="150.50" width="16.60" height="21.90" fill="#808080" stroke="#222" stroke-width="1"/>
<path d="M507.05 170.25V174.55M505.05 170.25H509.05M505.05 174.55H509.05" stroke="#222" stroke-width="1" fill="none"/>
<path d="M507.05 34.15V45.88M505.05 34.15H509.05M505.05 45.88H509.05" stroke="#222" stroke-width="1" fill="none"/>
<rect x="538.25" y="150.50" width="16.60" height="39.31" fill="#fff" stroke="#222" stroke-width="1"/>
<rect x="538.25" y="111.00" width="16.60" height="39.50" fill="#808080" stroke="#222" stroke-width="1"/>
<path d="M546.55 108.07V113.93M544.55 108.07H548.55M544.55 113.93H548.55" stroke="#222" stroke-width="1" fill="none"/>
<path d="M546.55 186.87V192.74M544.55 186.87H548.55M544.55 192.74H548.55" stroke="#222" stroke-width="1" fill="none"/>
<rect x="577.75" y="69.74" width="16.60" height="80.76" fill="#fff" stroke="#222" stroke-width="1"/>
<rect x="577.75" y="150.50" width="16.60" height="43.02" fill="#808080" stroke="#222" stroke-width="1"/>
<path d="M586.05 190.59V196.45M584.05 190.59H588.05M584.05 196.45H588.05" stroke="#222" stroke-width="1" fill="none"/>
<path d="M586.05 68.96V70.52M584.05 68.96H588.05M584.05 70.52H588.05" stroke="#222" stroke-width="1" fill="none"/>
<rect x="656.75" y="107.09" width="16.60" height="43.41" fill="#fff" stroke="#222" stroke-width="1"/>
<rect x="656.75" y="150.50" width="16.60" height="35.59" fill="#808080" stroke="#222" stroke-width="1"/>
<path d="M665.05 183.16V189.02M663.05 183.16H667.05M663.05 189.02H667.05" stroke="#222" stroke-width="1" fill="none"/>
<path d="M665.05 103.76V110.41M663.05 103.76H667.05M663.05 110.41H667.05" stroke="#222" stroke-width="1" fill="none"/>
<path d="M408 150.5H684.3" stroke="#111" stroke-width="1"/>
<path d="M459.25 150.20H475.85" stroke="#1a1a1a" stroke-width="2"/>
<path d="M617.25 150.20H633.85" stroke="#1a1a1a" stroke-width="2"/>
<path d="M447.50 150.5V153.5" stroke="#333" stroke-width="1"/>
<path d="M487.00 150.5V153.5" stroke="#333" stroke-width="1"/>
<path d="M526.50 150.5V153.5" stroke="#333" stroke-width="1"/>
<path d="M566.00 150.5V153.5" stroke="#333" stroke-width="1"/>
<path d="M605.50 150.5V153.5" stroke="#333" stroke-width="1"/>
<path d="M645.00 150.5V153.5" stroke="#333" stroke-width="1"/>
<text x="434.10" y="100.60" text-anchor="middle" font-family="'Liberation Serif', serif" font-size="8.6" font-weight="bold">Absorptance</text>
<text x="467.40" y="141.20" text-anchor="middle" font-family="'Liberation Serif', serif" font-size="8.6" font-weight="bold">Emissivity</text>
<text x="545.50" y="98.60" text-anchor="middle" font-family="'Liberation Serif', serif" font-size="8.6" font-weight="bold">Irradiance</text>
<text x="624.80" y="143.50" text-anchor="middle" font-family="'Liberation Serif', serif" font-size="8.6" font-weight="bold">RH</text>
<text x="664.50" y="97.70" text-anchor="middle" font-family="'Liberation Serif', serif" font-size="8.6" font-weight="bold">Thickness</text>
<text x="496.9" y="25.1" font-family="'Liberation Serif', serif" font-size="9" font-weight="bold">T<tspan font-size="5.9" dy="1.8" dx="-0.4">reflect</tspan></text>
<text x="579.6" y="62" font-family="'Liberation Serif', serif" font-size="9" font-weight="bold">T<tspan font-size="5.9" dy="1.6" dx="-0.2">air</tspan></text>
<text x="413.3" y="28.4" font-family="'Liberation Serif', serif" font-size="14.6">(b)</text>
<rect x="604.4" y="17.3" width="70.3" height="35" fill="#fff" stroke="#333" stroke-width="1"/>
<rect x="608.7" y="23.4" width="6" height="6" fill="#808080" stroke="#222" stroke-width="1"/>
<rect x="608.7" y="40.9" width="6" height="6" fill="#fff" stroke="#222" stroke-width="1"/>
<text x="618.1" y="30.1" font-family="'Liberation Serif', serif" font-size="11.6">10% higher</text>
<text x="618.1" y="47" font-family="'Liberation Serif', serif" font-size="11.6">10% lower</text>
<text transform="translate(367 102.5) rotate(-90)" text-anchor="middle" font-family="'Liberation Serif', serif" font-size="14.7" font-weight="bold">Change in C<tspan font-size="10" dy="2.5">p</tspan><tspan dy="-2.5"> (%)</tspan></text>
<rect x="58.5" y="274.5" width="275" height="204" fill="#fff" stroke="#222" stroke-width="1"/>
<path d="M54.8 478.50H58.5" stroke="#222" stroke-width="1"/>
<text x="48" y="481.80" text-anchor="end" font-family="'Liberation Serif', serif" font-size="11.8">3000</text>
<path d="M54.8 444.50H58.5" stroke="#222" stroke-width="1"/>
<text x="48" y="447.80" text-anchor="end" font-family="'Liberation Serif', serif" font-size="11.8">3200</text>
<path d="M54.8 410.50H58.5" stroke="#222" stroke-width="1"/>
<text x="48" y="413.80" text-anchor="end" font-family="'Liberation Serif', serif" font-size="11.8">3400</text>
<path d="M54.8 376.50H58.5" stroke="#222" stroke-width="1"/>
<text x="48" y="379.80" text-anchor="end" font-family="'Liberation Serif', serif" font-size="11.8">3600</text>
<path d="M54.8 342.50H58.5" stroke="#222" stroke-width="1"/>
<text x="48" y="345.80" text-anchor="end" font-family="'Liberation Serif', serif" font-size="11.8">3800</text>
<path d="M54.8 308.50H58.5" stroke="#222" stroke-width="1"/>
<text x="48" y="311.80" text-anchor="end" font-family="'Liberation Serif', serif" font-size="11.8">4000</text>
<path d="M54.8 274.50H58.5" stroke="#222" stroke-width="1"/>
<text x="48" y="277.80" text-anchor="end" font-family="'Liberation Serif', serif" font-size="11.8">4200</text>
<rect x="142.9" y="331.79" width="35.5" height="146.71" fill="#808080" stroke="#222" stroke-width="1"/>
<rect x="213.5" y="335.36" width="35.5" height="143.14" fill="#fff" stroke="#222" stroke-width="1"/>
<path d="M160.5 315.5V346M158.8 315.5H162.2M158.8 346H162.2" stroke="#111" stroke-width="1" fill="none"/>
<path d="M231.4 312.1V356.8M229.7 312.1H233.1M229.7 356.8H233.1" stroke="#111" stroke-width="1" fill="none"/>
<path d="M162.5 308V298.5H230.5V308" stroke="#1a1a1a" stroke-width="1" fill="none"/>
<text x="197.2" y="292.4" text-anchor="middle" font-family="'Liberation Serif', serif" font-size="10" font-weight="bold">ns</text>
<text x="60.3" y="293.2" font-family="'Liberation Serif', serif" font-size="14.6">(c)</text>
<text x="162.40" y="498.4" text-anchor="middle" font-family="'Liberation Serif', serif" font-size="10.3" font-weight="bold">Attached</text>
<text x="162.40" y="510" text-anchor="middle" font-family="'Liberation Serif', serif" font-size="10.3" font-weight="bold">leaves</text>
<text x="233.80" y="498.4" text-anchor="middle" font-family="'Liberation Serif', serif" font-size="10.3" font-weight="bold">Detached</text>
<text x="233.80" y="510" text-anchor="middle" font-family="'Liberation Serif', serif" font-size="10.3" font-weight="bold">leaves</text>
<text transform="translate(13.3 430) rotate(-90)" text-anchor="start" font-family="'Liberation Serif', serif" font-size="15" font-weight="bold">C<tspan font-size="10" dy="1.5">p</tspan><tspan dy="-1.5">&#160; (J kg</tspan><tspan font-size="9" dy="-5">-1</tspan><tspan dy="5"> K</tspan><tspan font-size="9" dy="-5">-1</tspan><tspan dy="5">)</tspan></text>
<rect x="378.5" y="275" width="303.3" height="202.2" fill="#fff" stroke="#222" stroke-width="1"/>
<path d="M445.30 477.2V479" stroke="#ccc" stroke-width="0.6"/>
<path d="M487.85 477.2V479" stroke="#ccc" stroke-width="0.6"/>
<path d="M530.40 477.2V479" stroke="#ccc" stroke-width="0.6"/>
<path d="M572.95 477.2V479" stroke="#ccc" stroke-width="0.6"/>
<path d="M615.50 477.2V479" stroke="#ccc" stroke-width="0.6"/>
<path d="M658.05 477.2V479" stroke="#ccc" stroke-width="0.6"/>
<path d="M412.70 275V477.2M648.10 275V477.2" stroke="#1a1a1a" stroke-width="1.5" stroke-dasharray="3 1.7"/>
<path d="M418.08 376.3H605.04" stroke="#ddd" stroke-width="1"/>
<path d="M435.29 376.3H587.83" stroke="#1a1a1a" stroke-width="1.1"/>
<rect x="509.56" y="374.3" width="4" height="4" fill="#000"/>
<text x="388" y="297" font-family="'Liberation Serif', serif" font-size="14.8">(d)</text>
<text x="531.70" y="299.50" text-anchor="middle" font-family="'Liberation Sans', sans-serif" font-size="8.45" font-weight="bold" style="stroke:none">Equivalence bounds -138.307 and 138.307</text>
<text x="530.50" y="309.20" text-anchor="middle" font-family="'Liberation Sans', sans-serif" font-size="8.45" font-weight="bold" style="stroke:none">Mean difference = -22.137</text>
<text x="532.00" y="319.20" text-anchor="middle" font-family="'Liberation Sans', sans-serif" font-size="8.45" font-weight="bold" style="stroke:none">TOST: 90% CI [-111.764;67.49] significant</text>
<text x="533.00" y="328.90" text-anchor="middle" font-family="'Liberation Sans', sans-serif" font-size="8.45" font-weight="bold" style="stroke:none">NHST: 95% CI [-131.982;87.708] non-significant</text>
<text x="403.50" y="494.40" text-anchor="middle" font-family="'Liberation Serif', serif" font-size="11.2">-150</text>
<text x="449.50" y="494.40" text-anchor="middle" font-family="'Liberation Serif', serif" font-size="11.2">-100</text>
<text x="493.20" y="494.40" text-anchor="middle" font-family="'Liberation Serif', serif" font-size="11.2">-50</text>
<text x="536.20" y="492.10" text-anchor="middle" font-family="'Liberation Serif', serif" font-size="11.2">0</text>
<text x="581.20" y="494.50" text-anchor="middle" font-family="'Liberation Serif', serif" font-size="11.2">50</text>
<text x="626.00" y="494.50" text-anchor="middle" font-family="'Liberation Serif', serif" font-size="11.2">100</text>
<text x="669.50" y="494.50" text-anchor="middle" font-family="'Liberation Serif', serif" font-size="11.2">150</text>
<text x="538.8" y="511.4" text-anchor="middle" font-family="'Liberation Serif', serif" font-size="10.3" font-weight="bold">Mean difference</text>
</svg>
</body></html>
